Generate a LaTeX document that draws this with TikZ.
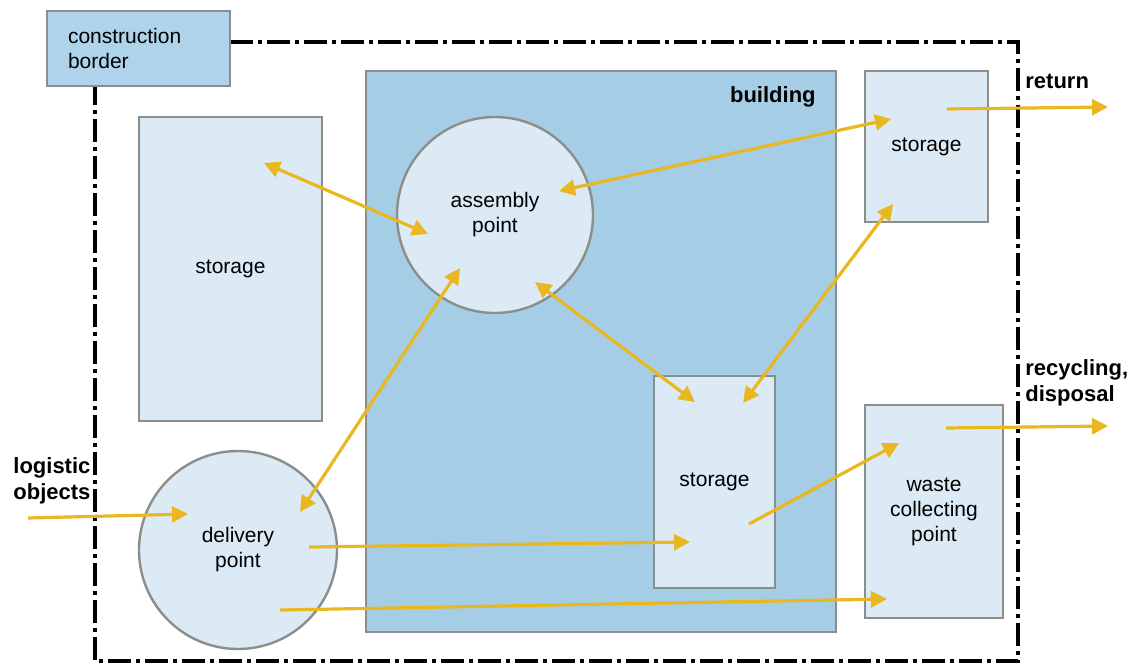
\documentclass[tikz,border=0pt]{standalone}
\usepackage{fontspec}
\setmainfont{Liberation Sans}
\usetikzlibrary{arrows.meta}
\definecolor{bldblue}{RGB}{166,205,230}
\definecolor{cbblue}{RGB}{174,211,235}
\definecolor{lightblue}{RGB}{219,234,245}
\definecolor{framegray}{RGB}{140,142,138}
\definecolor{flowyellow}{RGB}{233,184,32}

\begin{document}
\begin{tikzpicture}[x=0.5pt,y=-0.5pt]
  \tikzstyle{Area}=[draw=framegray,line width=1.2pt,inner sep=0pt,align=center,font=\fontsize{10.5}{12.5}\selectfont]
  \tikzstyle{Store}=[Area,rectangle,fill=lightblue]
  \tikzstyle{Point}=[Area,circle,fill=lightblue]
  \tikzstyle{Flow}=[draw=flowyellow,line width=1.6pt,-{Triangle[length=8pt,width=8pt]}]
  \tikzstyle{BiFlow}=[Flow,{Triangle[length=8pt,width=8pt]}-{Triangle[length=8pt,width=8pt]}]
  \tikzstyle{Label}=[font=\bfseries\fontsize{11}{13}\selectfont,align=left,inner sep=0pt]
  \useasboundingbox (0,0) rectangle (1134,664);
  \draw[line width=1.8pt,dash pattern=on 11.5pt off 2.5pt on 2pt off 2.5pt]
    (230,42) -- (1018,42) -- (1018,661) -- (95,661) -- (95,86);
  \node[Area,fill=cbblue,minimum width=91.5pt,minimum height=37.5pt,text width=70.5pt,align=left] (border) at (138.5,48.5) {construction\\border};
  \node[Area,fill=bldblue,minimum width=235pt,minimum height=280.5pt] (building) at (601,351.5) {};
  \node[Label,anchor=east] (buildinglbl) at (816,97) {building};
  \node[Store,minimum width=91.5pt,minimum height=152pt] (storeL) at (230.5,269) {storage};
  \node[Store,minimum width=61.5pt,minimum height=75.5pt] (storeR) at (926.5,146.5) {storage};
  \node[Store,minimum width=60.5pt,minimum height=106pt] (storeC) at (714.5,482) {storage};
  \node[Store,minimum width=69pt,minimum height=106.5pt] (waste) at (934,511.5) {waste\\collecting\\point};
  \node[Point,minimum size=98pt] (assembly) at (495,215) {assembly\\point};
  \node[Point,minimum size=99pt] (delivery) at (238,550) {delivery\\point};
  \node[Label,anchor=west] (return) at (1025,81) {return};
  \node[Label,anchor=west] (recycling) at (1025,383) {recycling,\\disposal};
  \node[Label,anchor=west] (logistic) at (13,481) {logistic\\objects};
  \coordinate (sL) at (264,163);
  \coordinate (aW) at (428,234);
  \coordinate (aE) at (559,191);
  \coordinate (sRn) at (891,119);
  \coordinate (aSE) at (535,282);
  \coordinate (sCnw) at (695,402);
  \coordinate (aSW) at (460,268);
  \coordinate (dNE) at (300,512);
  \coordinate (sRs) at (893,204);
  \coordinate (sCne) at (743,403);
  \coordinate (sRe) at (947,109);
  \coordinate (ret) at (1108,107);
  \coordinate (wN) at (946,428);
  \coordinate (rec) at (1108,426);
  \coordinate (in) at (28,518);
  \coordinate (dW) at (188,514);
  \coordinate (dE) at (309,547);
  \coordinate (sCw) at (690,542);
  \coordinate (dS) at (280,610);
  \coordinate (wSW) at (887,599);
  \coordinate (sCs) at (749,524);
  \coordinate (wNW) at (899,443);
  \draw[BiFlow] (sL) -- (aW);
  \draw[BiFlow] (aE) -- (sRn);
  \draw[BiFlow] (aSE) -- (sCnw);
  \draw[BiFlow] (aSW) -- (dNE);
  \draw[BiFlow] (sRs) -- (sCne);
  \draw[Flow] (sRe) -- (ret);
  \draw[Flow] (wN) -- (rec);
  \draw[Flow] (in) -- (dW);
  \draw[Flow] (dE) -- (sCw);
  \draw[Flow] (dS) -- (wSW);
  \draw[Flow] (sCs) -- (wNW);
\end{tikzpicture}
\end{document}
